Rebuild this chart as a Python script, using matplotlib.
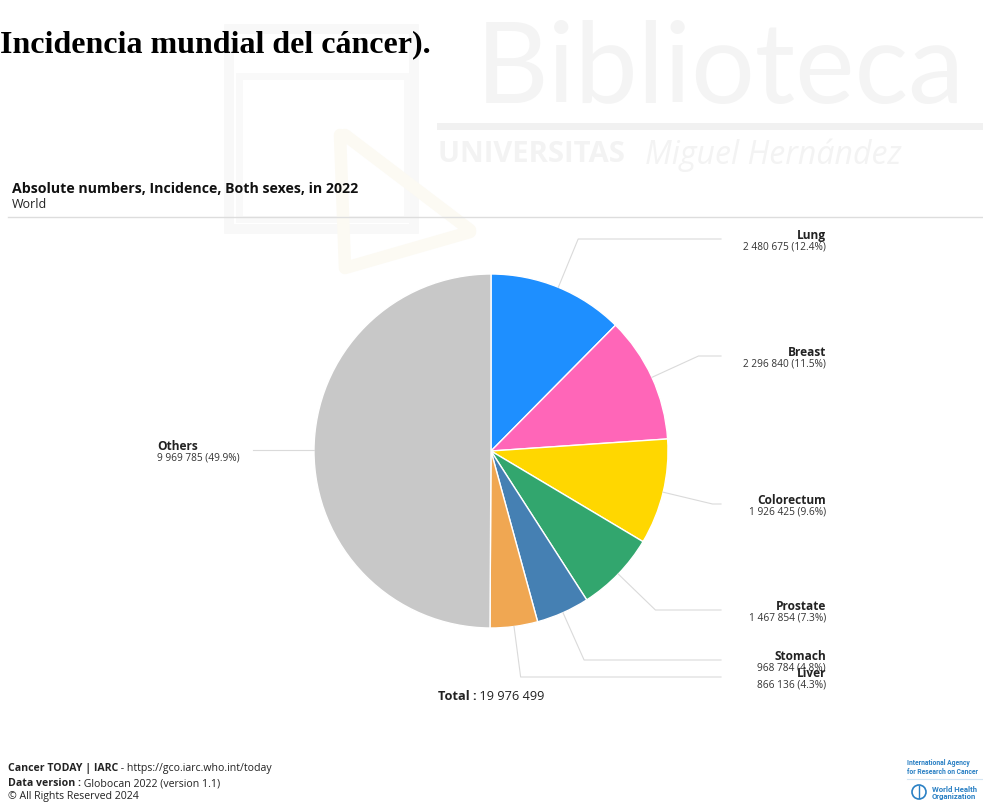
import numpy as np
import matplotlib
matplotlib.use('Agg')
import matplotlib.pyplot as plt
from matplotlib.patches import Rectangle, Circle

plt.rcParams['font.family'] = ['Open Sans', 'DejaVu Sans']

W, H = 983, 802

# data (GLOBOCAN 2022, world incidence, both sexes)
sites = ['Lung', 'Breast', 'Colorectum', 'Prostate', 'Stomach', 'Liver', 'Others']
cases = [2480675, 2296840, 1926425, 1467854, 968784, 866136, 9969785]
colors = ['#1e8fff', '#ff66b8', '#ffd700', '#32a66e', '#4580b3', '#f0a752', '#c8c8c8']
total = 19976499

# layout of the labels (pixel y of each leader line)
label_y = [239, 356, 504, 610, 660, 677, 450]

cx, cy, R = 491, 451, 177


def fmt(v):
    return '{:,}'.format(v).replace(',', ' ')


def rich(ax, x, y, parts, size, color='#222222', align='left', family=None):
    r = fig.canvas.get_renderer()
    objs = []
    for txt, weight in parts:
        t = ax.text(0, y, txt, fontsize=size, fontweight=weight, color=color,
                    va='center', ha='left', family=family)
        objs.append(t)
    widths = [t.get_window_extent(r).width for t in objs]
    if align == 'center':
        x = x - sum(widths) / 2
    for t, w in zip(objs, widths):
        t.set_x(x)
        x += w


fig = plt.figure(figsize=(W / 100, H / 100), dpi=100)
ax = fig.add_axes([0, 0, 1, 1])

# faint library watermark in the background
ax.add_patch(Rectangle((229, 29), 185, 200, fill=False, edgecolor='#f8f8f8', lw=7, zorder=0))
ax.add_patch(Rectangle((239, 76), 168, 143, fill=False, edgecolor='#f9f9f9', lw=5, zorder=0))
ax.plot([340, 345, 470], [135, 268, 232], color='#fcfaf3', lw=9, zorder=0, solid_capstyle='round')
ax.plot([345, 470], [135, 230], color='#fcfaf3', lw=9, zorder=0, solid_capstyle='round')
ax.text(476, 103, 'Biblioteca', fontsize=81, color='#f4f4f4', family=['Lato', 'DejaVu Sans'],
        fontweight='normal', va='baseline', ha='left', zorder=0)
ax.plot([440, W], [126, 126], color='#f1f1f1', lw=5, zorder=0)
ax.text(438, 155, 'UNIVERSITAS ', fontsize=21, color='#f3f3f3', fontweight='bold',
        va='center', ha='left', zorder=0)
ax.text(645, 155, 'Miguel Hernández', fontsize=23, color='#f3f3f3', style='italic',
        va='center', ha='left', zorder=0)

# page title
ax.text(0, 45, 'Incidencia mundial del cáncer).', fontsize=23, fontweight='bold',
        family=['Liberation Serif', 'DejaVu Serif'], color='black', va='center', ha='left')

# chart header
ax.text(12, 189, 'Absolute numbers, Incidence, Both sexes, in 2022', fontsize=10.2,
        fontweight='bold', color='#111111', va='center', ha='left')
ax.text(12, 205, 'World', fontsize=9, color='#222222', va='center', ha='left')
ax.plot([8, W], [217, 217], color='#dddddd', lw=1)

# pie (screen clockwise from 12 o'clock, y axis is inverted)
ax.pie(cases, colors=colors, startangle=270, counterclock=True, center=(cx, cy), radius=R,
       wedgeprops=dict(edgecolor='white', linewidth=1.0, joinstyle='round'))

# leader lines and labels
cum = np.cumsum(cases)
for i, name in enumerate(sites):
    theta = np.radians((cum[i] - cases[i] / 2) / total * 360)
    px, py = cx + R * np.sin(theta), cy - R * np.cos(theta)
    ly = label_y[i]
    if abs(np.cos(theta)) > 0.05:
        t = (cy - ly) / np.cos(theta)
        ex = cx + t * np.sin(theta)
    else:
        ex, ly = px, py
    right = np.sin(theta) > 0
    endx = 721 if right else 253
    ax.plot([px, ex, endx], [py, ly, ly], color='#dadada', lw=0.8, zorder=1)
    pct = '{} ({:.1f}%)'.format(fmt(cases[i]), cases[i] / total * 100)
    if right:
        tx, ha = 826, 'right'
    else:
        tx, ha = 157, 'left'
    ax.text(tx, ly - 3.5, name, fontsize=8.6, fontweight='bold', color='#222222',
            va='center', ha=ha, zorder=3)
    ax.text(tx, ly + 8, pct, fontsize=7.3, color='#333333', va='center', ha=ha, zorder=3)

rich(ax, cx, 696, [('Total :', 'bold'), (' ' + fmt(total), 'normal')], 9.2,
     color='#222222', align='center')

# footer
rich(ax, 8, 769, [('Cancer TODAY | IARC', 'bold'), (' - https://gco.iarc.who.int/today', 'normal')], 7.6)
rich(ax, 8, 784, [('Data version :', 'bold'), (' Globocan 2022 (version 1.1)', 'normal')], 7.6)
ax.text(8, 797, '© All Rights Reserved 2024', fontsize=7.6, color='#222222', va='center', ha='left')

# IARC / WHO logo
blue = '#2a80c4'
logo_font = ['Roboto', 'DejaVu Sans']
ax.text(907, 763, 'International Agency', fontsize=4.9, color=blue, family=logo_font,
        fontweight='bold', va='center', ha='left')
ax.text(907, 771.5, 'for Research on Cancer', fontsize=4.9, color=blue, family=logo_font,
        fontweight='bold', va='center', ha='left')
ax.plot([907, W], [779, 779], color='#d3e5f3', lw=0.8)
ax.add_patch(Circle((919, 792), 7, facecolor='white', edgecolor=blue, lw=1.2))
ax.plot([919, 919], [786, 798], color=blue, lw=1)
ax.text(932, 789, 'World Health', fontsize=5.6, color=blue, family=logo_font,
        fontweight='bold', va='center', ha='left')
ax.text(932, 797, 'Organization', fontsize=5.6, color=blue, family=logo_font,
        fontweight='bold', va='center', ha='left')

ax.set_xlim(0, W)
ax.set_ylim(H, 0)
ax.set_aspect('auto')
ax.axis('off')

fig.savefig('out.png', dpi=100)
